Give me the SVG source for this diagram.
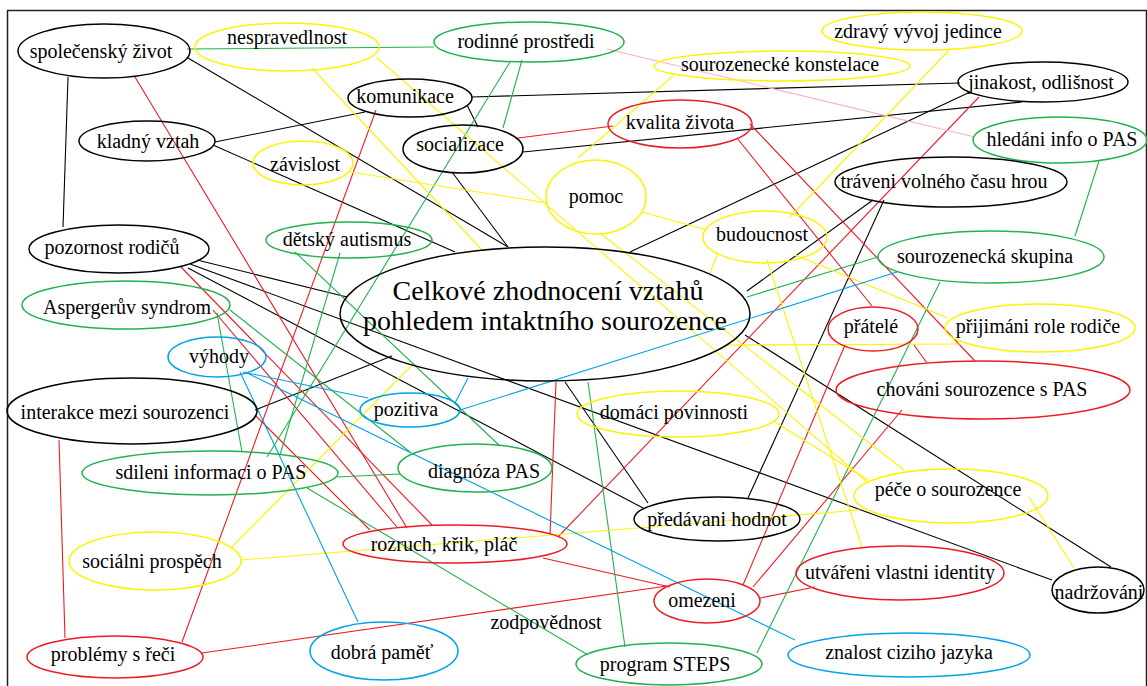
<svg xmlns="http://www.w3.org/2000/svg" width="1147" height="686" viewBox="0 0 1147 686">
<style>
.c line{stroke-width:1.1;fill:none}
.b{stroke:#000}
.r{stroke:#ED1C24}
.g{stroke:#22B14C}
.y{stroke:#FFF200}
.bl{stroke:#00A2E8}
.p{stroke:#FFAEC9}
ellipse{fill:none;stroke-width:1.5}
.nb ellipse{stroke:#000}
.nr ellipse{stroke:#ED1C24}
.ng ellipse{stroke:#22B14C}
.ny ellipse{stroke:#FFF200}
.nbl ellipse{stroke:#00A2E8}
text{font-family:"Liberation Serif","Times New Roman",serif;font-size:20px;fill:#000;text-anchor:middle}
</style>
<rect x="7.5" y="10.5" width="1139" height="690" fill="#fff" stroke="#222" stroke-width="1.5"/>
<g id="connectors" class="c">
<line class="b" x1="68" y1="77" x2="63" y2="227"/>
<line class="b" x1="188" y1="58" x2="508" y2="247"/>
<line class="b" x1="215" y1="142" x2="365" y2="112"/>
<line class="b" x1="213" y1="145" x2="455" y2="252"/>
<line class="b" x1="452" y1="172" x2="508" y2="247"/>
<line class="b" x1="471" y1="97" x2="960" y2="83"/>
<line class="b" x1="467" y1="105" x2="478" y2="127"/>
<line class="b" x1="523" y1="152" x2="1022" y2="102"/>
<line class="b" x1="970" y1="92" x2="630" y2="252"/>
<line class="b" x1="873" y1="200" x2="747" y2="291"/>
<line class="b" x1="884" y1="200" x2="748" y2="498"/>
<line class="b" x1="197" y1="260" x2="347" y2="297"/>
<line class="b" x1="190" y1="264" x2="1052" y2="580"/>
<line class="b" x1="188" y1="268" x2="643" y2="508"/>
<line class="b" x1="255" y1="410" x2="392" y2="356"/>
<line class="b" x1="565" y1="382" x2="648" y2="503"/>
<line class="b" x1="745" y1="335" x2="1111" y2="567"/>
<line class="r" x1="135" y1="77" x2="407" y2="528"/>
<line class="r" x1="376" y1="110" x2="182" y2="642"/>
<line class="r" x1="518" y1="138" x2="613" y2="126"/>
<line class="r" x1="737" y1="138" x2="872" y2="306"/>
<line class="r" x1="750" y1="124" x2="975" y2="361"/>
<line class="r" x1="979" y1="97" x2="558" y2="537"/>
<line class="r" x1="556" y1="382" x2="550" y2="535"/>
<line class="r" x1="543" y1="558" x2="670" y2="587"/>
<line class="r" x1="202" y1="653" x2="667" y2="586"/>
<line class="r" x1="59" y1="440" x2="65" y2="638"/>
<line class="r" x1="180" y1="266" x2="432" y2="525"/>
<line class="r" x1="213" y1="310" x2="397" y2="527"/>
<line class="r" x1="845" y1="345" x2="743" y2="585"/>
<line class="r" x1="902" y1="410" x2="753" y2="587"/>
<line class="r" x1="760" y1="598" x2="815" y2="587"/>
<line class="r" x1="914" y1="345" x2="927" y2="363"/>
<line class="r" x1="255" y1="415" x2="370" y2="530"/>
<line class="g" x1="187" y1="49" x2="434" y2="47"/>
<line class="g" x1="510" y1="62" x2="267" y2="457"/>
<line class="g" x1="522" y1="60" x2="503" y2="128"/>
<line class="g" x1="340" y1="253" x2="280" y2="455"/>
<line class="g" x1="217" y1="313" x2="242" y2="452"/>
<line class="g" x1="230" y1="310" x2="410" y2="452"/>
<line class="g" x1="307" y1="488" x2="588" y2="655"/>
<line class="g" x1="295" y1="252" x2="500" y2="446"/>
<line class="g" x1="337" y1="477" x2="400" y2="474"/>
<line class="g" x1="588" y1="382" x2="625" y2="647"/>
<line class="g" x1="1099" y1="161" x2="1075" y2="236"/>
<line class="g" x1="747" y1="297" x2="878" y2="257"/>
<line class="g" x1="940" y1="282" x2="757" y2="653"/>
<line class="y" x1="350" y1="172" x2="548" y2="203"/>
<line class="y" x1="673" y1="76" x2="578" y2="158"/>
<line class="y" x1="642" y1="212" x2="707" y2="230"/>
<line class="y" x1="718" y1="253" x2="710" y2="273"/>
<line class="y" x1="950" y1="49" x2="790" y2="217"/>
<line class="y" x1="767" y1="260" x2="862" y2="547"/>
<line class="y" x1="795" y1="255" x2="948" y2="318"/>
<line class="y" x1="727" y1="345" x2="960" y2="344"/>
<line class="y" x1="232" y1="547" x2="412" y2="365"/>
<line class="y" x1="241" y1="560" x2="860" y2="510"/>
<line class="y" x1="1029" y1="497" x2="1074" y2="568"/>
<line class="y" x1="775" y1="422" x2="868" y2="480"/>
<line class="y" x1="312" y1="68" x2="482" y2="250"/>
<line class="y" x1="377" y1="58" x2="867" y2="482"/>
<line class="y" x1="600" y1="233" x2="904" y2="470"/>
<line class="bl" x1="245" y1="372" x2="795" y2="640"/>
<line class="bl" x1="460" y1="410" x2="897" y2="272"/>
<line class="bl" x1="468" y1="378" x2="455" y2="403"/>
<line class="bl" x1="243" y1="372" x2="368" y2="398"/>
<line class="bl" x1="240" y1="372" x2="358" y2="622"/>
<line class="p" x1="607" y1="49" x2="975" y2="137"/>
</g>
<g id="n-spolecensky" class="nb"><ellipse cx="104" cy="51" rx="86" ry="27"/><text x="101" y="58">společenský život</text></g>
<g id="n-nespravedlnost" class="ny"><ellipse cx="287" cy="47" rx="92" ry="24"/><text x="287" y="44">nespravedlnost</text></g>
<g id="n-rodinne" class="ng"><ellipse cx="529" cy="42" rx="95" ry="20"/><text x="526" y="48">rodinné prostředi</text></g>
<g id="n-zdravy" class="ny"><ellipse cx="922" cy="31" rx="100" ry="19"/><text x="918" y="38">zdravý vývoj jedince</text></g>
<g id="n-konstelace" class="ny"><ellipse cx="782" cy="66" rx="128" ry="15"/><text x="780" y="71">sourozenecké konstelace</text></g>
<g id="n-jinakost" class="nb"><ellipse cx="1043" cy="82" rx="85" ry="20"/><text x="1041" y="89">jinakost, odlišnost</text></g>
<g id="n-komunikace" class="nb"><ellipse cx="410" cy="98" rx="62" ry="19"/><text x="405" y="103">komunikace</text></g>
<g id="n-kladny" class="nb"><ellipse cx="147" cy="141" rx="68" ry="20"/><text x="148" y="148">kladný vztah</text></g>
<g id="n-zavislost" class="ny"><ellipse cx="303" cy="163" rx="50" ry="22"/><text x="305" y="171">závislost</text></g>
<g id="n-socializace" class="nb"><ellipse cx="463" cy="149" rx="60" ry="24"/><text x="460" y="151">socializace</text></g>
<g id="n-kvalita" class="nr"><ellipse cx="680" cy="124" rx="72" ry="24"/><text x="680" y="129">kvalita života</text></g>
<g id="n-hledani" class="ng"><ellipse cx="1060" cy="140" rx="87" ry="23"/><text x="1062" y="146">hledáni info o PAS</text></g>
<g id="n-pomoc" class="ny"><ellipse cx="596" cy="197" rx="50" ry="37"/><text x="596" y="203">pomoc</text></g>
<g id="n-traveni" class="nb"><ellipse cx="951" cy="182" rx="116" ry="25"/><text x="944" y="188">tráveni volného času hrou</text></g>
<g id="n-budoucnost" class="ny"><ellipse cx="765" cy="237" rx="62" ry="26"/><text x="762" y="241">budoucnost</text></g>
<g id="n-autismus" class="ng"><ellipse cx="349" cy="240" rx="83" ry="18"/><text x="347" y="246">dětský autismus</text></g>
<g id="n-pozornost" class="nb"><ellipse cx="119" cy="249" rx="90" ry="24"/><text x="112" y="254">pozornost rodičů</text></g>
<g id="n-skupina" class="ng"><ellipse cx="991" cy="257" rx="113" ry="26"/><text x="985" y="263">sourozenecká skupina</text></g>
<g id="n-celkove" class="nb"><ellipse cx="545" cy="314" rx="205" ry="67"/><text x="548" y="300" style="font-size:28px">Celkové zhodnocení vztahů</text><text x="545" y="330" style="font-size:28px">pohledem intaktního sourozence</text></g>
<g id="n-asperger" class="ng"><ellipse cx="126" cy="305" rx="104" ry="24"/><text x="127" y="314">Aspergerův syndrom</text></g>
<g id="n-pratele" class="nr"><ellipse cx="873" cy="329" rx="45" ry="22"/><text x="871" y="333">přátelé</text></g>
<g id="n-prijimani" class="ny"><ellipse cx="1040" cy="328" rx="95" ry="24"/><text x="1038" y="333">přijimáni role rodiče</text></g>
<g id="n-vyhody" class="nbl"><ellipse cx="217" cy="357" rx="49" ry="20"/><text x="219" y="363">výhody</text></g>
<g id="n-chovani" class="nr"><ellipse cx="983" cy="390" rx="147" ry="29"/><text x="982" y="396">chováni sourozence s PAS</text></g>
<g id="n-interakce" class="nb"><ellipse cx="132" cy="411" rx="125" ry="33"/><text x="125" y="419">interakce mezi sourozenci</text></g>
<g id="n-pozitiva" class="nbl"><ellipse cx="410" cy="410" rx="50" ry="17"/><text x="406" y="416">pozitiva</text></g>
<g id="n-domaci" class="ny"><ellipse cx="678" cy="414" rx="101" ry="23"/><text x="674" y="419">domáci povinnosti</text></g>
<g id="n-sdileni" class="ng"><ellipse cx="210" cy="473" rx="128" ry="22"/><text x="211" y="479">sdileni informaci o PAS</text></g>
<g id="n-diagnoza" class="ng"><ellipse cx="475" cy="468" rx="77" ry="24"/><text x="484" y="478">diagnóza PAS</text></g>
<g id="n-pece" class="ny"><ellipse cx="951" cy="496" rx="97" ry="27"/><text x="948" y="496">péče o sourozence</text></g>
<g id="n-predavani" class="nb"><ellipse cx="717" cy="519" rx="83" ry="22"/><text x="717" y="526">předávani hodnot</text></g>
<g id="n-rozruch" class="nr"><ellipse cx="455" cy="544" rx="112" ry="19"/><text x="444" y="551">rozruch, křik, pláč</text></g>
<g id="n-socialni" class="ny"><ellipse cx="155" cy="561" rx="86" ry="29"/><text x="152" y="568">sociálni prospěch</text></g>
<g id="n-utvareni" class="nr"><ellipse cx="900" cy="573" rx="104" ry="27"/><text x="900" y="579">utvářeni vlastni identity</text></g>
<g id="n-omezeni" class="nr"><ellipse cx="707" cy="601" rx="53" ry="22"/><text x="702" y="607">omezeni</text></g>
<g id="n-nadrzovani" class="nb"><ellipse cx="1098" cy="590" rx="46" ry="23"/><text x="1099" y="599">nadržováni</text></g>
<g id="n-zodpovednost"><text x="546" y="629">zodpovědnost</text></g>
<g id="n-problemy" class="nr"><ellipse cx="115" cy="657" rx="88" ry="21"/><text x="113" y="661">problémy s řeči</text></g>
<g id="n-pamet" class="nbl"><ellipse cx="384" cy="651" rx="74" ry="29"/><text x="382" y="659">dobrá paměť</text></g>
<g id="n-steps" class="ng"><ellipse cx="669" cy="664" rx="93" ry="21"/><text x="665" y="671">program STEPS</text></g>
<g id="n-znalost" class="nbl"><ellipse cx="909" cy="655" rx="121" ry="22"/><text x="909" y="659">znalost ciziho jazyka</text></g>
</svg>
